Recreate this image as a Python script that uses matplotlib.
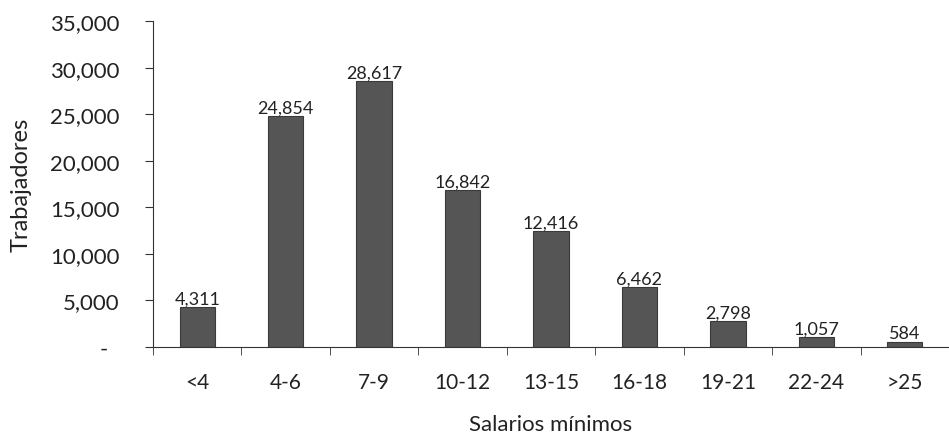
import matplotlib
matplotlib.use("Agg")
import matplotlib.pyplot as plt
import numpy as np
from matplotlib.ticker import FuncFormatter

# Trabajadores por rango de salarios minimos
CATEGORIES = ["<4", "4-6", "7-9", "10-12", "13-15", "16-18", "19-21", "22-24", ">25"]
WORKERS = [4311, 24854, 28617, 16842, 12416, 6462, 2798, 1057, 584]
Y_TICKS = [0, 5000, 10000, 15000, 20000, 25000, 30000, 35000]

plt.rcParams["font.family"] = ["Lato", "DejaVu Sans"]

fig = plt.figure(figsize=(9.49, 4.35), dpi=100)
ax = fig.add_axes([153 / 949, 0.2, 1 - 153 / 949, 0.749])

x = np.arange(len(CATEGORIES))
ax.bar(x, WORKERS, width=0.4, color="#555555", edgecolor="#3a3a3a", linewidth=0.8)

for xi, v in zip(x, WORKERS):
    ax.text(xi, v + 50, f"{v:,}", ha="center", va="bottom", fontsize=13, color="#222222")

ax.set_xlim(-0.5, len(CATEGORIES) - 0.5)
ax.set_ylim(0, 35000)
ax.set_yticks(Y_TICKS)
# Excel accounting style: zero shown as a dash, set in from the right
ax.yaxis.set_major_formatter(FuncFormatter(lambda v, p: "-  " if v == 0 else f"{int(v):,}"))

# category labels centred, ticks between categories
ax.set_xticks(x)
ax.set_xticklabels(CATEGORIES, fontsize=15, color="#222222")
ax.tick_params(axis="x", which="major", length=0, pad=18)
ax.set_xticks(np.arange(len(CATEGORIES) + 1) - 0.5, minor=True)
ax.tick_params(axis="x", which="minor", length=6, direction="out", color="#333333")
ax.tick_params(axis="y", length=6, direction="out", labelsize=16, labelcolor="#222222",
               pad=18, color="#333333")

for side in ["top", "right"]:
    ax.spines[side].set_visible(False)
for side in ["left", "bottom"]:
    ax.spines[side].set_color("#333333")

ax.set_ylabel("Trabajadores", fontsize=17, color="#222222", labelpad=13)
ax.set_xlabel("Salarios mínimos", fontsize=16, color="#222222", labelpad=16)

fig.savefig("out.png", dpi=100)
